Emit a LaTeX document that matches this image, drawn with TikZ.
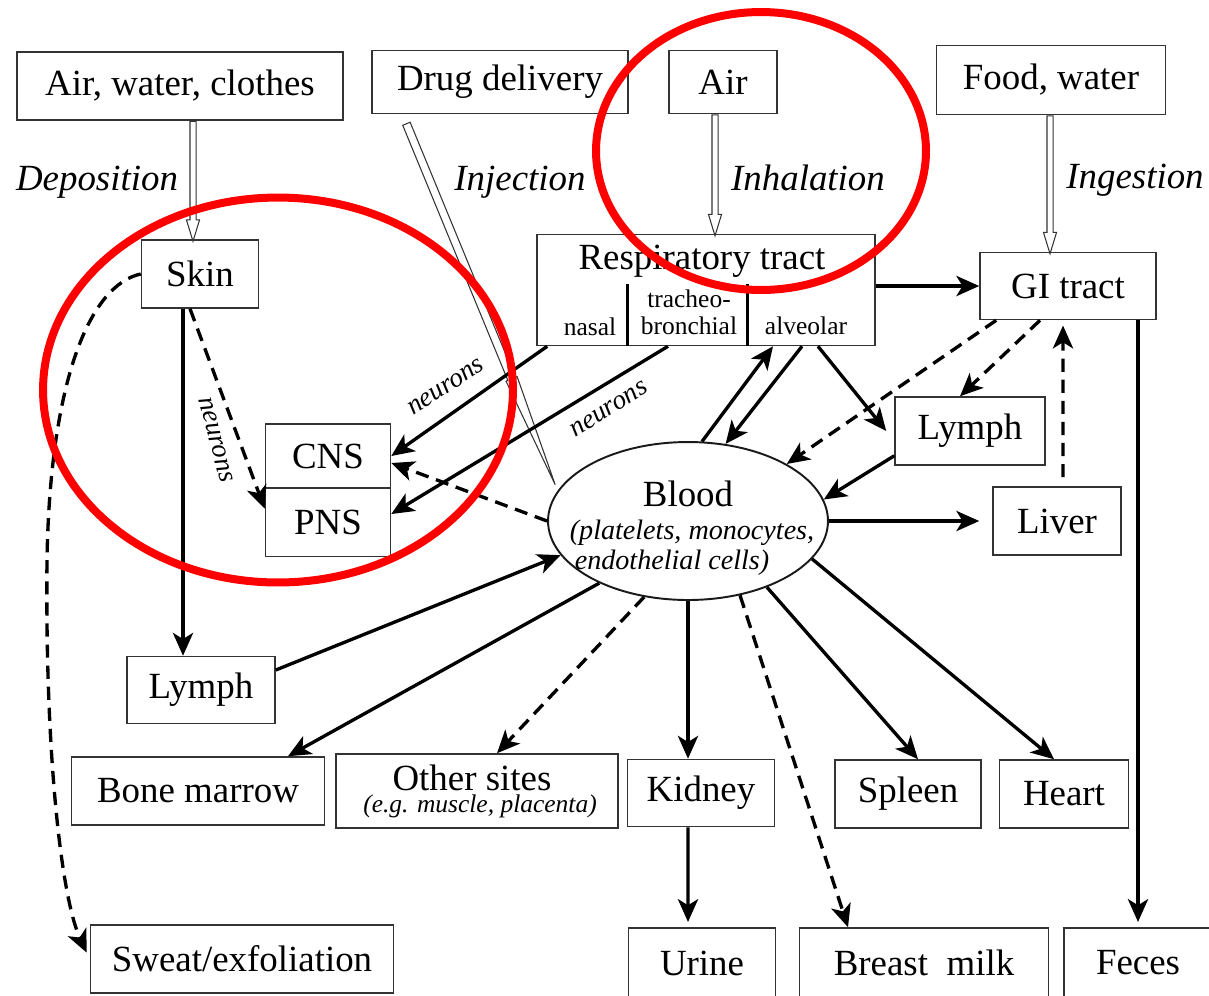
\documentclass[tikz,border=0pt]{standalone}
\usepackage{fontspec}
\setmainfont{Liberation Serif}
\usetikzlibrary{arrows.meta,shapes.geometric,shapes.arrows}

\tikzset{
  box/.style={draw=black!80,line width=0.9pt,inner sep=0pt,minimum height=1.36cm},
  lab/.style={font=\fontsize{21}{25}\selectfont\itshape},
  small/.style={font=\fontsize{14.5}{16}\selectfont},
  note/.style={font=\fontsize{15.5}{17}\selectfont\itshape},
  bloodnote/.style={font=\fontsize{16}{18}\selectfont\itshape},
  arr/.style={line width=1.9pt,-{Stealth[length=13pt,width=11.5pt,inset=3.5pt]}},
  darr/.style={arr,dash pattern=on 7.5pt off 4.5pt},
  needle/.style={single arrow,draw=black!80,line width=0.6pt,fill=white,inner xsep=0pt,inner ysep=0.05cm,
    minimum width=0.24cm,single arrow head extend=0.07cm,single arrow tip angle=34},
  ring/.style={draw=red,line width=0.16cm}
}

\begin{document}
\begin{tikzpicture}[x=0.02cm,y=-0.02cm,font=\fontsize{21}{25}\selectfont]
\useasboundingbox (0,0) rectangle (1209,995);

\node[box,minimum width=6.52cm] (awc) at (180,86) {Air, water, clothes};
\node[box,minimum width=5.12cm,minimum height=1.26cm] (drug) at (500,82) {Drug delivery};
\node[box,minimum width=2.16cm,minimum height=1.26cm] (air) at (723,82) {Air};
\node[box,minimum width=4.58cm,minimum height=1.38cm] (food) at (1051,80) {Food, water};

\node[box,minimum width=2.34cm] (skin) at (200,274) {Skin};
\node[box,minimum width=6.76cm,minimum height=2.22cm] (resp) at (706,290) {};
\node (resptxt) at (702,261) {Respiratory tract};
\node[small] (nasal) at (590,327) {nasal};
\node[small] (trach) at (689,299) {tracheo-};
\node[small] (bronch) at (689,326) {bronchial};
\node[small] (alv) at (806,326) {alveolar};
\draw[line width=1.8pt] ([xshift=1.82cm]resp.south west) -- ++(0,-62);
\draw[line width=1.8pt] ([xshift=4.22cm]resp.south west) -- ++(0,-62);
\node[box,minimum width=3.52cm,minimum height=1.34cm] (gi) at (1068,286) {GI tract};
\node[box,minimum width=3cm] (lymphR) at (970,431) {Lymph};
\node[box,minimum width=2.56cm] (liver) at (1057,521) {Liver};
\node[box,minimum width=2.5cm,minimum height=1.28cm] (cns) at (328,456) {CNS};
\node[box,minimum width=2.5cm,minimum height=1.38cm] (pns) at (328,522) {PNS};

\node[draw=black!90,line width=1.1pt,ellipse,minimum width=5.6cm,minimum height=3.16cm,inner sep=0pt] (blood) at (688,521) {};
\node (bloodtxt) at (688,494) {Blood};
\node[bloodnote] (cells1) at (692,533) {(platelets, monocytes,};
\node[bloodnote] (cells2) at (672,563) {endothelial cells)};

\node[box,minimum width=2.96cm,minimum height=1.34cm] (lymphL) at (201,690) {Lymph};
\node[box,minimum width=5.06cm] (bone) at (198,791) {Bone marrow};
\node[box,minimum width=5.64cm,minimum height=1.48cm] (other) at (477,791) {};
\node (othertxt) at (472,778) {Other sites};
\node[small,font=\fontsize{14.5}{16}\selectfont\itshape] (eg) at (480,806) {(e.g. muscle, placenta)};
\node[box,minimum width=2.94cm,minimum height=1.34cm] (kidney) at (701,793) {Kidney};
\node[box,minimum width=2.92cm] (spleen) at (908,794) {Spleen};
\node[box,minimum width=2.58cm] (heart) at (1064,794) {Heart};
\node[box,minimum width=6.06cm] (sweat) at (242,959) {Sweat/exfoliation};
\node[box,minimum width=2.94cm,minimum height=1.4cm] (urine) at (702,963) {Urine};
\node[box,minimum width=4.98cm,minimum height=1.4cm] (milk) at (924,963) {Breast\ \ milk};
\node[box,minimum width=2.96cm,minimum height=1.4cm] (feces) at (1138,963) {Feces};

\node[needle,rotate=-90,anchor=tail,minimum height=2.4cm] (dep) at ([xshift=0.26cm]awc.south) {};
\node[needle,rotate=-90,anchor=tail,minimum height=2.42cm] (inh) at ([xshift=-0.16cm]air.south) {};
\node[needle,rotate=-90,anchor=tail,minimum height=2.76cm] (ing) at ([xshift=-0.02cm]food.south) {};
\node[needle,rotate=-67.6,anchor=tail,minimum height=7.81cm,single arrow head extend=0.03cm,
  single arrow tip angle=6] (inj) at ([shift={(0.7cm,-0.18cm)}]drug.south west) {};

\node[lab] (deplab) at (97,182) {Deposition};
\node[lab] (injlab) at (520,182) {Injection};
\node[lab] (inhlab) at (808,178) {Inhalation};
\node[lab] (inglab) at (1135,180) {Ingestion};
\node[note,rotate=-75] (n1) at (216,440) {neurons};
\node[note,rotate=33] (n2) at (446,387) {neurons};
\node[note,rotate=32] (n3) at (609,409) {neurons};

\draw[arr] ([xshift=-0.34cm]skin.south) -- ([xshift=-0.36cm]lymphL.north);
\draw[darr] ([xshift=-0.2cm]skin.south) -- ([yshift=-0.44cm]pns.north west);
\draw[darr,shorten >=4pt] (skin.west) .. controls (90,285) and (50,380) .. (47,560)
  .. controls (45,760) and (62,900) .. (sweat.west);
\draw[arr] ([xshift=0.22cm]resp.south west) -- (cns.east);
\draw[arr] ([xshift=-0.76cm]resp.south) -- ([yshift=0.16cm]pns.east);
\draw[darr] (blood.west) -- ([yshift=-0.14cm]cns.east);
\draw[arr] (gi.west -| resp.east) -- (gi.west);
\draw[arr] (blood.80) -- ([xshift=1.34cm]resp.south);
\draw[arr] ([xshift=1.92cm]resp.south) -- (blood.64);
\draw[arr] ([xshift=2.24cm]resp.south) -- ([xshift=-0.16cm]lymphR.west);
\draw[darr] ([xshift=0.34cm]gi.south west) -- (blood.30);
\draw[darr] ([xshift=-0.56cm]gi.south) -- ([xshift=-0.2cm]lymphR.north);
\draw[darr,shorten >=3pt] ([shift={(0.12cm,0.18cm)}]liver.north) -- ([xshift=-0.1cm]gi.south);
\draw[arr] ([yshift=0.2cm]lymphR.south west) -- (blood.9);
\draw[arr] (blood.east) -- ([xshift=-0.26cm]liver.west);
\draw[arr] ([yshift=0.4cm]lymphL.east) -- (blood.195);
\draw[arr] (blood.215) -- ([xshift=1.8cm]bone.north);
\draw[darr] (blood.240) -- ([xshift=0.4cm]other.north);
\draw[arr] (blood.south) -- (blood.south |- kidney.north);
\draw[darr] (blood.305) -- ([xshift=-1.52cm]milk.north);
\draw[arr] (blood.320) -- ([xshift=0.2cm]spleen.north);
\draw[arr] (blood.343) -- ([xshift=-0.2cm]heart.north);
\draw[arr,shorten >=3pt] ([xshift=-0.26cm]kidney.south) -- ([xshift=-0.28cm]urine.north);
\draw[arr,shorten >=3pt] (feces.north |- gi.south) -- (feces.north);

\draw[ring] (761,151) ellipse [x radius=3.3cm,y radius=2.78cm];
\draw[ring] (278,390) ellipse [x radius=4.7cm,y radius=3.85cm];
\end{tikzpicture}
\end{document}
